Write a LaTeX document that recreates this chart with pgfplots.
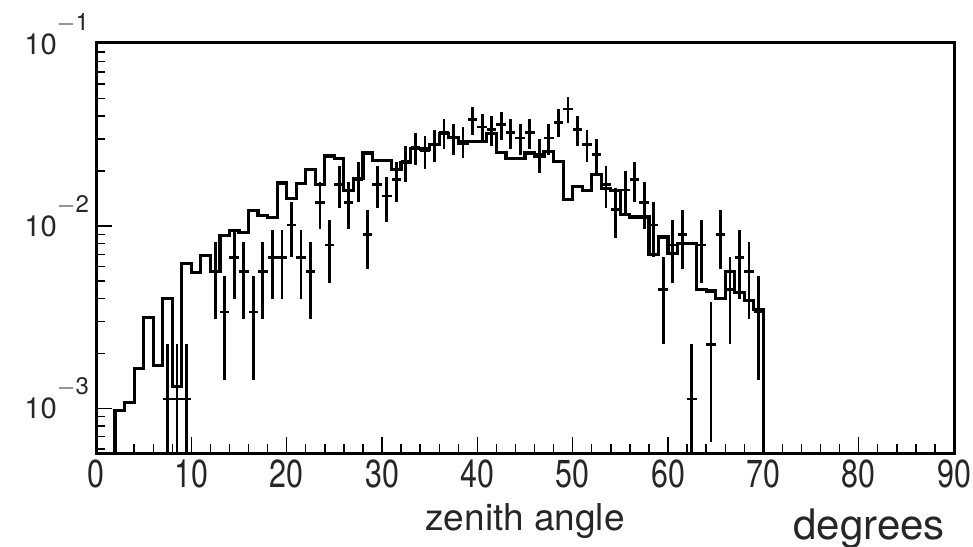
\documentclass[border=0pt]{standalone}
\usepackage{fontspec}
\setmainfont{TeX Gyre Heros}
\newfontfamily\condfont{TeX Gyre Heros}[FakeStretch=0.78]
\usepackage{pgfplots}
\usepackage{pgfplotstable}
\pgfplotsset{compat=1.18}

% histogram (left bin edge, content)
\pgfplotstableread{
x y
2 0.00001
2 0.00097
3 0.00108
4 0.00165
5 0.00315
6 0.00171
7 0.00400
8 0.00132
9 0.00624
10 0.00554
11 0.00687
12 0.00560
13 0.00885
14 0.00940
15 0.00920
16 0.01210
17 0.01140
18 0.01110
19 0.01720
20 0.01410
21 0.01710
22 0.02030
23 0.01680
24 0.02420
25 0.02350
26 0.01560
27 0.01820
28 0.02510
29 0.02280
30 0.02280
31 0.02040
32 0.02220
33 0.02670
34 0.02640
35 0.02800
36 0.03210
37 0.03060
38 0.02840
39 0.02900
40 0.02900
41 0.03220
42 0.02540
43 0.02350
44 0.02350
45 0.02510
46 0.02410
47 0.02560
48 0.02250
49 0.01390
50 0.01650
51 0.01560
52 0.01910
53 0.01600
54 0.01560
55 0.01150
56 0.01120
57 0.01120
58 0.00700
59 0.00870
60 0.00710
61 0.00800
62 0.00800
63 0.00450
64 0.00440
65 0.00400
66 0.00560
67 0.00430
68 0.00390
69 0.00350
70 0.00350
70 0.00001
}\histtable

% data points (bin centre, value, upper error, lower error)
\pgfplotstableread{
x y ep em
7.5 0.001124 0.001124 0.0011235
8.5 0.001124 0.001124 0.0011235
9.5 0.001124 0.001124 0.0011235
12.5 0.005620 0.002513 0.002513
13.5 0.003372 0.001947 0.001947
14.5 0.006744 0.002753 0.002753
15.5 0.005620 0.002513 0.002513
16.5 0.003372 0.001947 0.001947
17.5 0.005620 0.002513 0.002513
18.5 0.006744 0.002753 0.002753
19.5 0.006744 0.002753 0.002753
20.5 0.010116 0.003372 0.003372
21.5 0.006744 0.002753 0.002753
22.5 0.005620 0.002513 0.002513
23.5 0.013488 0.003894 0.003894
24.5 0.007868 0.002974 0.002974
25.5 0.016860 0.004353 0.004353
26.5 0.013488 0.003894 0.003894
27.5 0.017984 0.004496 0.004496
28.5 0.008992 0.003179 0.003179
29.5 0.016860 0.004353 0.004353
30.5 0.014612 0.004053 0.004053
31.5 0.017984 0.004496 0.004496
32.5 0.022480 0.005027 0.005027
33.5 0.026976 0.005506 0.005506
34.5 0.025852 0.005391 0.005391
35.5 0.028100 0.005620 0.005620
36.5 0.032596 0.006053 0.006053
37.5 0.030348 0.005840 0.005840
38.5 0.029224 0.005731 0.005731
39.5 0.038216 0.006554 0.006554
40.5 0.034844 0.006258 0.006258
41.5 0.033720 0.006156 0.006156
42.5 0.035968 0.006358 0.006358
43.5 0.032596 0.006053 0.006053
44.5 0.030348 0.005840 0.005840
45.5 0.032596 0.006053 0.006053
46.5 0.024728 0.005272 0.005272
47.5 0.030348 0.005840 0.005840
48.5 0.037092 0.006457 0.006457
49.5 0.043836 0.007019 0.007019
50.5 0.033720 0.006156 0.006156
51.5 0.028100 0.005620 0.005620
52.5 0.024728 0.005272 0.005272
53.5 0.016860 0.004353 0.004353
54.5 0.012364 0.003728 0.003728
55.5 0.015736 0.004206 0.004206
56.5 0.017984 0.004496 0.004496
57.5 0.013488 0.003894 0.003894
58.5 0.010116 0.003372 0.003372
59.5 0.004496 0.002248 0.002248
60.5 0.007868 0.002974 0.002974
61.5 0.008992 0.003179 0.003179
62.5 0.001124 0.001124 0.0011235
63.5 0.007868 0.002974 0.002974
64.5 0.002248 0.001590 0.001590
65.5 0.008992 0.003179 0.003179
66.5 0.004496 0.002248 0.002248
67.5 0.006744 0.002753 0.002753
68.5 0.005620 0.002513 0.002513
69.5 0.003372 0.001947 0.001947
}\pointtable

\newcommand{\ylab}[1]{\fontsize{14.6}{16}\selectfont 10\raisebox{12pt}{\fontsize{12}{12}\selectfont$-$#1}}

\begin{document}
\begin{tikzpicture}
\begin{axis}[
  scale only axis, width=429pt, height=205.5pt,
  xmin=0, xmax=90,
  ymode=log, ymin=5.69e-4, ymax=0.102,
  axis line style={line width=1.5pt},
  tick style={black, line width=0.7pt},
  tick align=inside, xtick pos=bottom, ytick pos=left,
  xtick={0,10,...,90}, minor x tick num=4,
  major tick length=8pt, minor tick length=4.5pt,
  ytick={0.001,0.01,0.1},
  minor ytick={6e-4,7e-4,8e-4,9e-4,2e-3,3e-3,4e-3,5e-3,6e-3,7e-3,8e-3,9e-3,2e-2,3e-2,4e-2,5e-2,6e-2,7e-2,8e-2,9e-2},
  yticklabels={\ylab{3},\ylab{2},\ylab{1}},
  yticklabel style={anchor=base east, yshift=-5.25pt, text=black!85},
  xticklabel style={font=\condfont\fontsize{19.5}{20}\selectfont, text=black!85},
  /pgf/number format/assume math mode=true,
  clip mode=individual,
]
\addplot[const plot mark left, line width=1.6pt, black] table[x=x, y=y] {\histtable};
\addplot[draw=none, mark=none,
  error bars/.cd, x dir=both, x fixed=0.5, y dir=both, y explicit,
  error mark=none, error bar style={draw=black, solid, line width=1.4pt}]
  table[x=x, y=y, y error plus=ep, y error minus=em] {\pointtable};
\end{axis}
\node[anchor=base, font=\fontsize{18.5}{19}\selectfont, text=black!85] at ([shift={(214.5pt,-38.5pt)}]current axis.south west) {zenith angle};
\node[anchor=base east, font=\fontsize{21}{22}\selectfont, text=black!85] at ([shift={(428pt,-43pt)}]current axis.south west) {degrees};
\pgfresetboundingbox
\path[use as bounding box] ([shift={(-48pt,-46.5pt)}]current axis.south west) rectangle ([shift={(9.5pt,21pt)}]current axis.north east);
\end{tikzpicture}
\end{document}
